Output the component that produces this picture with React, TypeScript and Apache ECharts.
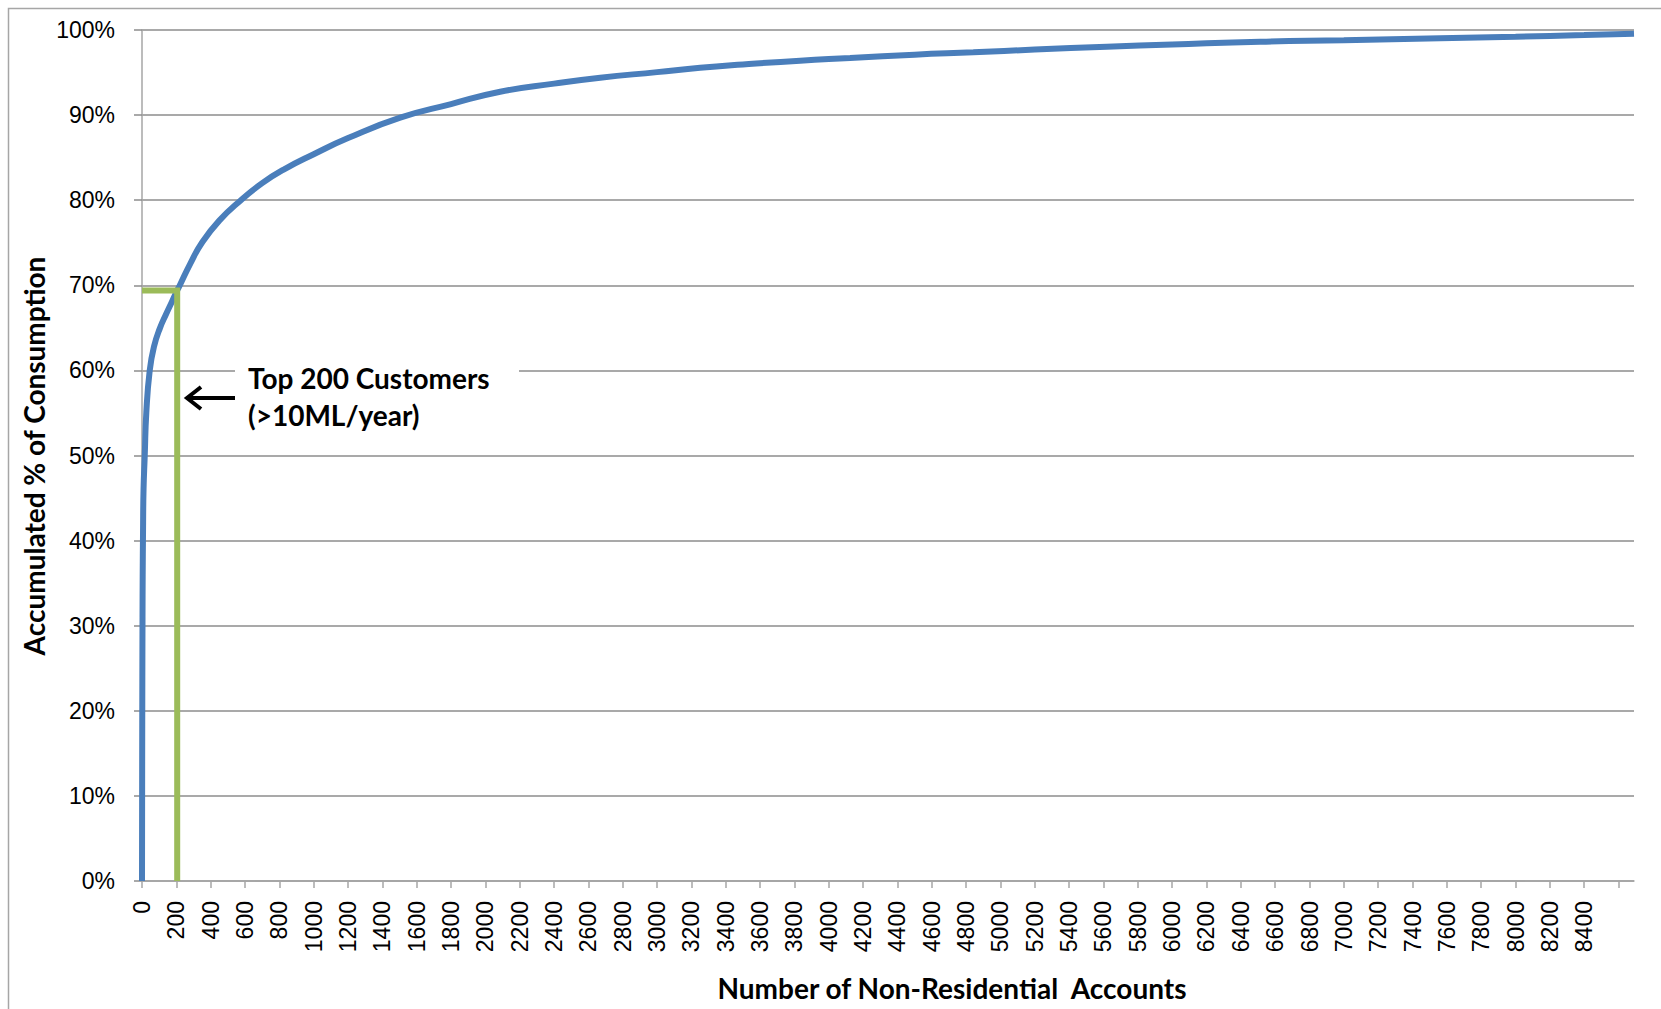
import React, { useEffect, useRef } from "react";
import * as echarts from "echarts";

// Number of accounts (ranked by consumption) and accumulated % of consumption
const accountCounts = [0, 1, 2, 3, 4, 6, 9, 16, 25, 45, 70, 105, 140, 175, 205, 219, 280, 349, 450, 576, 700, 825, 1000, 1200, 1504, 1800, 2086, 2400, 2669, 3000, 3251, 3500, 3833, 4124, 4500, 4842, 5200, 5619, 6000, 6512, 7000, 7560, 8000, 8400, 8690];
const accumulatedPct = [0, 14, 24, 31, 36, 41, 46, 50, 55, 60, 62.8, 65, 66.6, 68.1, 69.4, 69.95, 72.5, 75, 77.6, 80, 82, 83.6, 85.4, 87.3, 89.7, 91.3, 92.75, 93.7, 94.4, 95.05, 95.56, 95.95, 96.4, 96.7, 97.1, 97.38, 97.7, 98.04, 98.3, 98.63, 98.8, 99.02, 99.2, 99.4, 99.57];

// Highlight of the top 200 customers
const topCustomersX = [0, 205, 205];
const topCustomersY = [69.4, 69.4, 0];

// Axis tick values
const xLabelValues = Array.from({ length: 43 }, (_, i) => i * 200); // 0..8400
const xTickValues = Array.from({ length: 44 }, (_, i) => i * 200); // 0..8600
const xMax = 8690;

const yTitle = "Accumulated % of Consumption";
const xTitle = "Number of Non-Residential  Accounts";
const noteLines = ["Top 200 Customers", "(>10ML/year)"];

export default function App() {
  const ref = useRef<HTMLDivElement>(null);
  useEffect(() => {
    if (!ref.current) return;
    const chart = echarts.init(ref.current, null, { renderer: "svg" });
    const titleFont = "Lato, 'Open Sans', sans-serif";
    chart.setOption({
      animation: false,
      backgroundColor: "#ffffff",
      grid: { left: 142, right: 27, top: 30, bottom: 128, containLabel: false },
      xAxis: {
        type: "value",
        min: 0,
        max: xMax,
        interval: 200,
        axisLine: { show: true, lineStyle: { color: "#a6a6a6", width: 1.5 } },
        axisTick: { show: true, length: 7, customValues: xTickValues, lineStyle: { color: "#a6a6a6", width: 1.5 } },
        axisLabel: {
          rotate: 90,
          margin: 20,
          customValues: xLabelValues,
          formatter: (v: number) => (v > 8400 ? "" : String(v)),
          color: "#000",
          fontSize: 23,
          fontFamily: "'Liberation Sans', Arial, sans-serif",
        },
        splitLine: { show: false },
      },
      yAxis: {
        type: "value",
        min: 0,
        max: 100,
        interval: 10,
        axisLine: { show: true, lineStyle: { color: "#a6a6a6", width: 1.5 } },
        axisTick: { show: true, length: 8, lineStyle: { color: "#8c8c8c", width: 1.5 } },
        axisLabel: {
          margin: 27,
          formatter: "{value}%",
          color: "#000",
          fontSize: 23,
          fontFamily: "'Liberation Sans', Arial, sans-serif",
        },
        splitLine: { show: true, lineStyle: { color: "#8c8c8c", width: 1.5 } },
      },
      series: [
        {
          type: "line",
          name: "Accumulated",
          data: accountCounts.map((x, i) => [x, accumulatedPct[i]]),
          showSymbol: false,
          symbol: "none",
          smooth: 0.5,
          lineStyle: { color: "#4a7ebb", width: 6 },
          z: 3,
        },
        {
          type: "line",
          name: "Top 200",
          data: topCustomersX.map((x, i) => [x, topCustomersY[i]]),
          showSymbol: false,
          symbol: "none",
          lineStyle: { color: "#9bbb59", width: 6, join: "miter", cap: "butt" },
          z: 4,
        },
      ],
      graphic: [
        {
          type: "rect",
          left: 6,
          top: 6,
          shape: { width: 1654, height: 1020 },
          style: { fill: "none", stroke: "#a6a6a6", lineWidth: 1.5 },
          silent: true,
          z: 0,
        },
        {
          type: "rect",
          shape: { x: 235, y: 335, width: 284, height: 105 },
          style: { fill: "#ffffff" },
          z: 10,
        },
        {
          type: "text",
          x: 248,
          y: 378,
          style: {
            text: noteLines[0],
            fill: "#000",
            font: `bold 28px ${titleFont}`,
            textAlign: "left",
            textVerticalAlign: "middle",
          },
          z: 11,
        },
        {
          type: "text",
          x: 248,
          y: 415,
          style: {
            text: noteLines[1],
            fill: "#000",
            font: `bold 28px ${titleFont}`,
            textAlign: "left",
            textVerticalAlign: "middle",
          },
          z: 11,
        },
        {
          type: "line",
          shape: { x1: 235, y1: 398, x2: 188, y2: 398 },
          style: { stroke: "#000", lineWidth: 4 },
          z: 11,
        },
        {
          type: "polyline",
          shape: { points: [[201, 387], [187, 398], [201, 409]] },
          style: { stroke: "#000", lineWidth: 4, fill: "none" },
          z: 11,
        },
        {
          type: "text",
          x: 34,
          y: 456,
          rotation: Math.PI / 2,
          style: {
            text: yTitle,
            fill: "#000",
            font: `bold 28px ${titleFont}`,
            textAlign: "center",
            textVerticalAlign: "middle",
          },
          z: 11,
        },
        {
          type: "text",
          x: 952,
          y: 988,
          style: {
            text: xTitle,
            fill: "#000",
            font: `bold 28px ${titleFont}`,
            textAlign: "center",
            textVerticalAlign: "middle",
            whiteSpace: "pre",
          },
          z: 11,
        },
      ],
    });
    return () => chart.dispose();
  }, []);
  return (
    <div
      ref={ref}
      style={{ position: "fixed", left: 0, top: 0, width: 1661, height: 1009, background: "#fff" }}
    />
  );
}
